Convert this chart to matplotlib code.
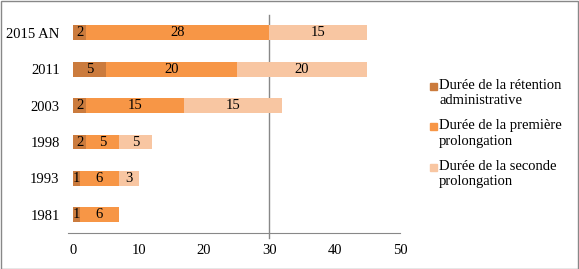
import matplotlib
matplotlib.use("Agg")
import matplotlib.pyplot as plt
import numpy as np

categories = ["2015 AN", "2011", "2003", "1998", "1993", "1981"]
retention = [2, 5, 2, 2, 1, 1]
premiere = [28, 20, 15, 5, 6, 6]
seconde = [15, 20, 15, 5, 3, 0]
series_names = ["Durée de la rétention\nadministrative",
                "Durée de la première\nprolongation",
                "Durée de la seconde\nprolongation"]
colors = ["#CB7B3D", "#F79646", "#F8C6A2"]
xticks = [0, 10, 20, 30, 40, 50]

plt.rcParams['font.family'] = ['Liberation Serif', 'DejaVu Serif']

W, H = 579, 269
fig = plt.figure(figsize=(W / 100, H / 100), dpi=100)
ax = fig.add_axes([68 / W, (H - 233) / H, (400 - 68) / W, (233 - 14.6) / H])

y = np.arange(len(categories))
left = np.zeros(len(categories))
for vals, col in zip([retention, premiere, seconde], colors):
    vals = np.array(vals, dtype=float)
    ax.barh(y, vals, left=left, height=0.41, color=col)
    for yi, (l, v) in enumerate(zip(left, vals)):
        if v > 0:
            ax.text(l + v / 2, yi, f"{int(v)}", ha="center", va="center",
                    fontsize=10.5, color="black")
    left += vals

ax.set_ylim(len(categories) - 0.5, -0.5)
ax.set_xlim(-0.8, 50)
ax.set_yticks(y)
ax.set_yticklabels(categories, fontsize=10.5)
ax.set_xticks(xticks)
ax.set_xticklabels([str(t) for t in xticks], fontsize=10.5)
ax.tick_params(axis="y", length=0, pad=6)
ax.tick_params(axis="x", length=0, pad=8)
for s in ["top", "right", "left"]:
    ax.spines[s].set_visible(False)
ax.spines["bottom"].set_color("#888888")
ax.plot([30, 30], [-0.5, len(categories) - 0.5 + 0.14], color="#888888",
        lw=1, clip_on=False, zorder=0)

# manual legend (marker aligned with first text line, as in the reference)
for i, (name, col) in enumerate(zip(series_names, colors)):
    ycen = 86 + 40.5 * i
    fig.patches.append(plt.Rectangle((430 / W, (H - ycen - 3.5) / H), 7 / W, 7 / H,
                                     transform=fig.transFigure, color=col))
    fig.text(439 / W, (H - ycen + 7) / H, name, ha="left", va="top",
             fontsize=10.5, linespacing=1.22)

fig.patches.append(plt.Rectangle((0.5 / W, 0.5 / H), 1 - 1.5 / W, 1 - 1.5 / H,
                                 transform=fig.transFigure, fill=False,
                                 edgecolor="#888888", lw=1))
fig.savefig("out.png", dpi=100)
